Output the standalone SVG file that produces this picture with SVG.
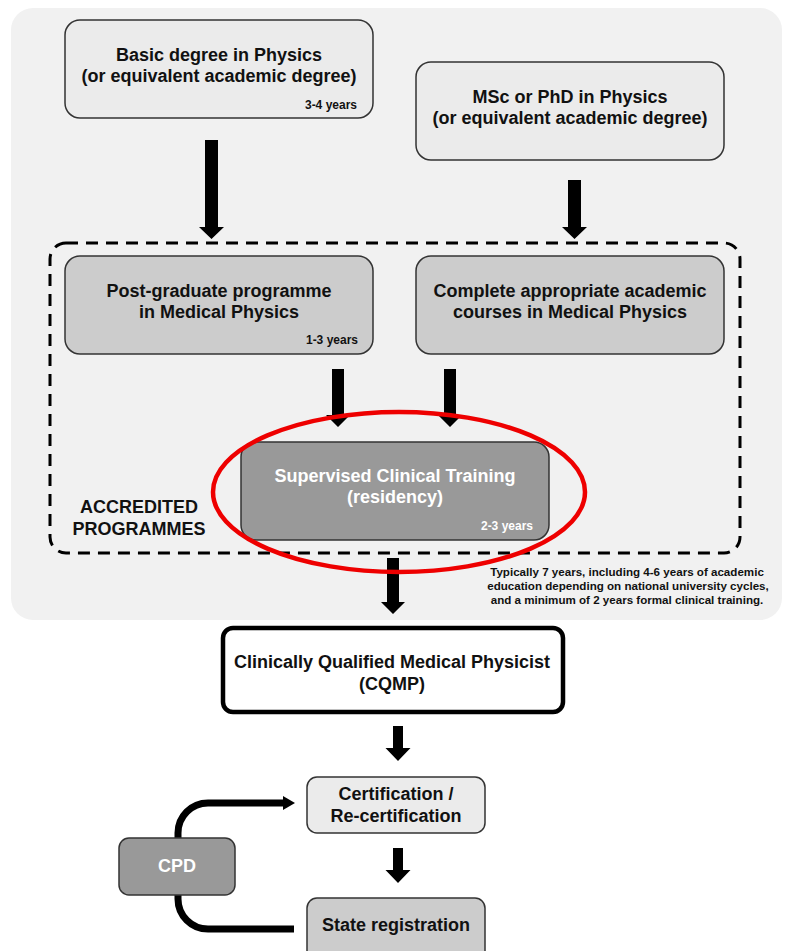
<svg xmlns="http://www.w3.org/2000/svg" width="786" height="951" viewBox="0 0 786 951">
<style>
text{font-family:"Liberation Sans",Arial,sans-serif;font-weight:bold;text-anchor:middle;fill:#111}
.t{font-size:18px}
.y{font-size:12px;text-anchor:end}
.n{font-size:11.6px}
.w{fill:#fff}
.box{stroke:#333;stroke-width:1.5}
.l1{fill:#ebebeb}.l2{fill:#cccccc}.l3{fill:#999999}
.arr{fill:#000}
</style>
<rect x="11" y="8" width="771" height="612" rx="22" fill="#f1f1f1"/>
<g id="accredited">
<rect x="50" y="243" width="690" height="310" rx="16" fill="none" stroke="#000" stroke-width="3" stroke-dasharray="12 8"/>
<text x="139" y="513" style="font-size:18px">ACCREDITED</text>
<text x="139" y="535" style="font-size:18px">PROGRAMMES</text>
</g>
<g id="connectors">
<path class="arr" d="M205 140h13v87h6l-12.5 12l-12.5-12h6z"/>
<path class="arr" d="M568 180h13v47h6l-12.5 12l-12.5-12h6z"/>
<path class="arr" d="M332 369h12v46h6l-12 12l-12-12h6z"/>
<path class="arr" d="M444 369h12v46h6l-12 12l-12-12h6z"/>
<path class="arr" d="M387 558h12v44h6l-12 12l-12-12h6z"/>
<path class="arr" d="M393 726h10v22h7.5l-12.5 13l-12.5-13h7.5z"/>
<path class="arr" d="M393 848h10v22h7.5l-12.5 13l-12.5-13h7.5z"/>
<path d="M178 838V833a30 30 0 0 1 30-30h76" fill="none" stroke="#000" stroke-width="7"/>
<path class="arr" d="M283 796l12 7l-12 7z"/>
<path d="M178 895V899a30 30 0 0 0 30 30h86" fill="none" stroke="#000" stroke-width="7"/>
</g>
<g id="basic">
<rect class="box l1" x="65" y="20" width="308" height="98" rx="15"/>
<text class="t" x="219" y="61">Basic degree in Physics</text>
<text class="t" x="219" y="82">(or equivalent academic degree)</text>
<text class="y" x="357" y="109">3-4 years</text>
</g>
<g id="msc">
<rect class="box l1" x="416" y="62" width="308" height="98" rx="15"/>
<text class="t" x="570" y="103">MSc or PhD in Physics</text>
<text class="t" x="570" y="124">(or equivalent academic degree)</text>
</g>
<g id="postgrad">
<rect class="box l2" x="65" y="256" width="308" height="98" rx="15"/>
<text class="t" x="219" y="297">Post-graduate programme</text>
<text class="t" x="219" y="318">in Medical Physics</text>
<text class="y" x="358" y="344">1-3 years</text>
</g>
<g id="courses">
<rect class="box l2" x="416" y="256" width="308" height="98" rx="15"/>
<text class="t" x="570" y="297">Complete appropriate academic</text>
<text class="t" x="570" y="318">courses in Medical Physics</text>
</g>
<g id="residency">
<rect class="box l3" x="241" y="442" width="308" height="98" rx="15"/>
<text class="t w" x="395" y="482">Supervised Clinical Training</text>
<text class="t w" x="395" y="503">(residency)</text>
<text class="y w" x="533" y="530">2-3 years</text>
</g>
<ellipse id="highlight" cx="399" cy="492" rx="186" ry="80" fill="none" stroke="#ee0000" stroke-width="4.5"/>
<g id="note">
<text class="n" x="627" y="576">Typically 7 years, including 4-6 years of academic</text>
<text class="n" x="628" y="590">education depending on national university cycles,</text>
<text class="n" x="627" y="604">and a minimum of 2 years formal clinical training.</text>
</g>
<g id="cqmp">
<rect x="223" y="628" width="340" height="84" rx="10" fill="#fff" stroke="#000" stroke-width="4.5"/>
<text class="t" x="392" y="668">Clinically Qualified Medical Physicist</text>
<text class="t" x="392" y="690">(CQMP)</text>
</g>
<g id="cert">
<rect class="box l1" x="307" y="777" width="178" height="56" rx="10"/>
<text class="t" x="396" y="800">Certification /</text>
<text class="t" x="396" y="822">Re-certification</text>
</g>
<g id="state">
<rect class="box l2" x="307" y="898" width="178" height="70" rx="10"/>
<text class="t" x="396" y="931">State registration</text>
</g>
<g id="cpd">
<rect class="box l3" x="119" y="838" width="116" height="57" rx="10"/>
<text class="t w" x="177" y="872">CPD</text>
</g>
</svg>
